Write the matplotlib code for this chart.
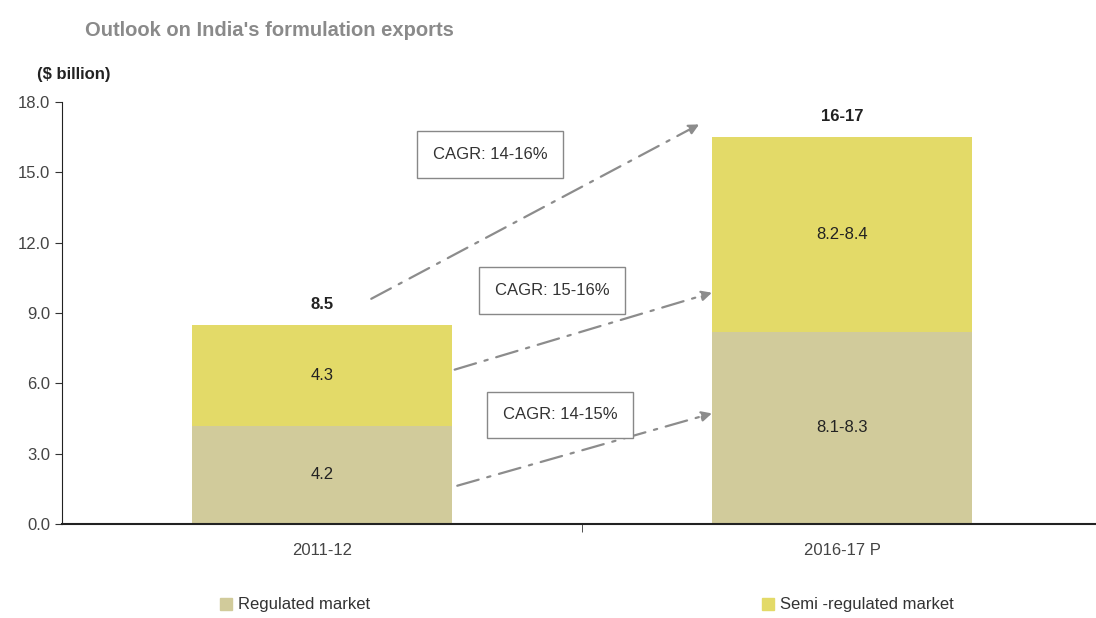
import matplotlib
matplotlib.use('Agg')
import matplotlib.pyplot as plt
from matplotlib.patches import Patch

plt.rcParams['font.family'] = ['Liberation Sans Narrow', 'Liberation Sans', 'DejaVu Sans']

# data
years = ['2011-12', '2016-17 P']
regulated = [4.2, 8.2]
semi_regulated = [4.3, 8.3]
regulated_labels = ['4.2', '8.1-8.3']
semi_labels = ['4.3', '8.2-8.4']
total_labels = ['8.5', '16-17']
cagr_labels = ['CAGR: 14-16%', 'CAGR: 15-16%', 'CAGR: 14-15%']

c_reg = '#d1cb9b'
c_semi = '#e3da68'

fig = plt.figure(figsize=(10.96, 6.18), dpi=100)
ax = fig.add_axes([62/1096, 94/618, 1034/1096, 422/618])

x = range(len(years))
ax.bar(x, regulated, width=0.5, color=c_reg)
ax.bar(x, semi_regulated, width=0.5, bottom=regulated, color=c_semi)

for i in x:
    ax.text(i, regulated[i]/2, regulated_labels[i], ha='center', va='center', fontsize=12, color='#222222')
    ax.text(i, regulated[i] + semi_regulated[i]/2, semi_labels[i], ha='center', va='center', fontsize=12, color='#222222')
    ax.text(i, regulated[i] + semi_regulated[i] + 0.55, total_labels[i], ha='center', va='bottom',
            fontsize=12, fontweight='bold', color='#222222')

# growth arrows
arrow_kw = dict(arrowstyle='-|>', color='#8c8c8c', lw=1.6, linestyle=(0, (10, 4, 1.5, 4)), mutation_scale=15)
tot = [regulated[i] + semi_regulated[i] for i in x]
ax.annotate('', xy=(0.73, 17.1), xytext=(0.09, tot[0] + 1.05), arrowprops=arrow_kw)
ax.annotate('', xy=(0.755, 9.9), xytext=(0.25, regulated[0] + semi_regulated[0]/2 + 0.2), arrowprops=arrow_kw)
ax.annotate('', xy=(0.755, 4.75), xytext=(0.255, 1.6), arrowprops=arrow_kw)

box = dict(boxstyle='square,pad=0.95', fc='white', ec='#888888', lw=1)
ax.text(0.323, 15.75, cagr_labels[0], ha='center', va='center', fontsize=12, color='#333333', bbox=box)
ax.text(0.442, 9.95, cagr_labels[1], ha='center', va='center', fontsize=12, color='#333333', bbox=box)
ax.text(0.458, 4.65, cagr_labels[2], ha='center', va='center', fontsize=12, color='#333333', bbox=box)

ax.set_xlim(-0.5, -0.5 + 1034/520)
ax.set_ylim(0, 18)
ax.set_yticks([0, 3, 6, 9, 12, 15, 18])
ax.set_yticklabels(['%.1f' % v for v in [0, 3, 6, 9, 12, 15, 18]], fontsize=12, color='#444444')
ax.set_xticks(list(x))
ax.set_xticklabels(years, fontsize=12, color='#444444')
ax.tick_params(axis='x', length=0, pad=14)
ax.set_xticks([0.5], minor=True)
ax.tick_params(axis='x', which='minor', length=6, color='#333333')
ax.tick_params(axis='y', length=5, color='#333333')
for s in ['top', 'right']:
    ax.spines[s].set_visible(False)
ax.spines['left'].set_color('#222222')
ax.spines['bottom'].set_color('#222222')
ax.spines['bottom'].set_linewidth(1.5)

fig.text(85/1096, 1 - 30/618, "Outlook on India's formulation exports", fontsize=14.5, fontweight='bold',
         color='#8a8a8a', va='center')
fig.text(37/1096, 1 - 75/618, '($ billion)', fontsize=12, fontweight='bold', color='#222222', va='center')

handles = [Patch(color=c_reg), Patch(color=c_semi)]
fig.legend(handles, ['Regulated market', 'Semi -regulated market'], loc='center left',
           bbox_to_anchor=(205/1096, 1 - 605/618), ncol=2, frameon=False, fontsize=12,
           handlelength=0.7, handleheight=0.7, handletextpad=0.4, columnspacing=23.5, labelcolor='#333333')

fig.savefig('out.png', dpi=100)
